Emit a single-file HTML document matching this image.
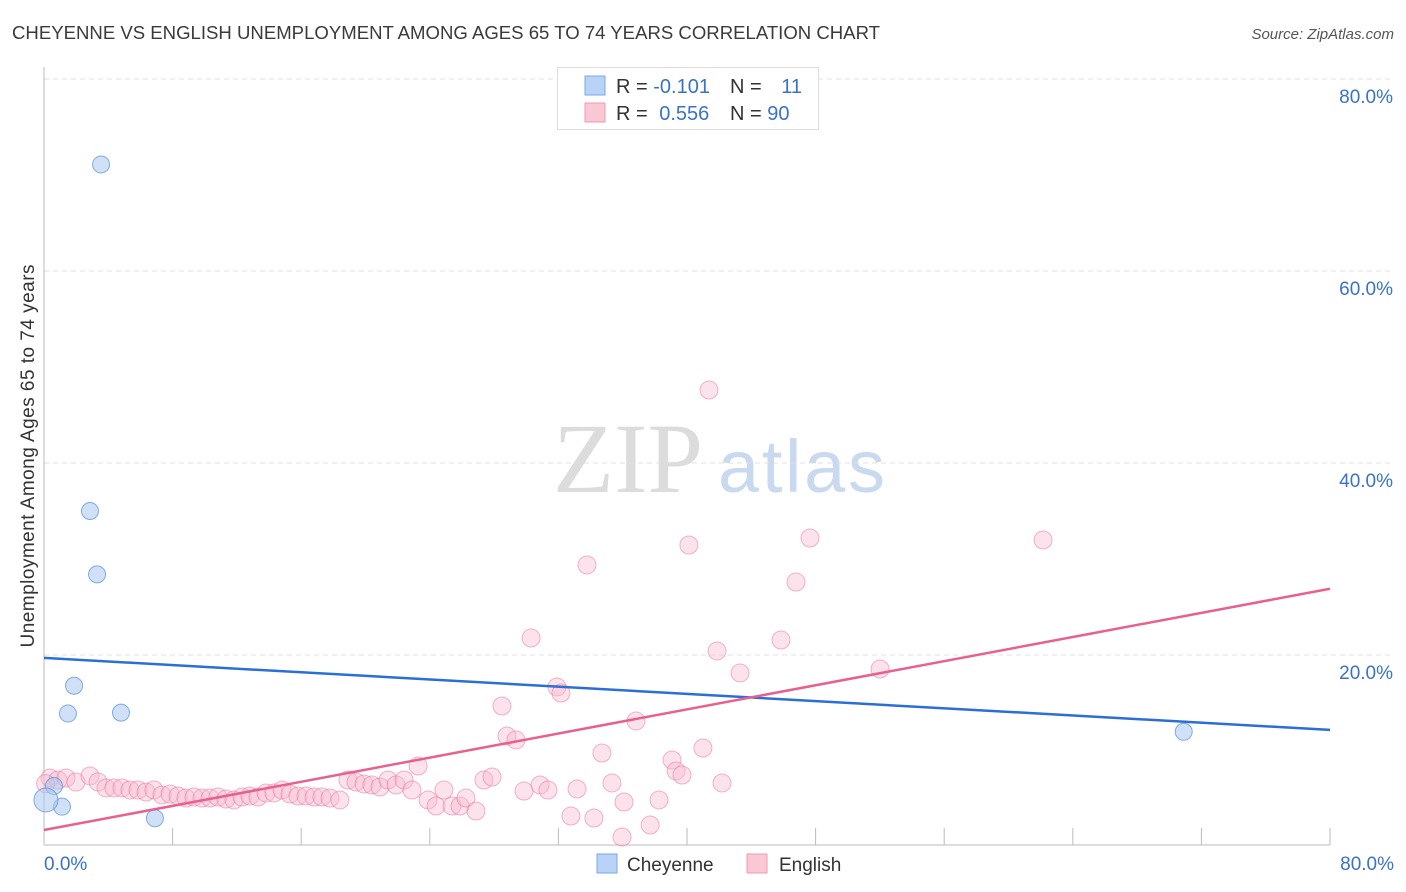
<!DOCTYPE html>
<html><head><meta charset="utf-8"><style>
body{margin:0;background:#fff;font-family:"Liberation Sans",sans-serif;}
svg{display:block}
</style></head><body>
<svg id="c" width="1406" height="892" xmlns="http://www.w3.org/2000/svg">
<text x="12" y="39" font-size="18" fill="#3a3a3a" textLength="868" lengthAdjust="spacingAndGlyphs">CHEYENNE VS ENGLISH UNEMPLOYMENT AMONG AGES 65 TO 74 YEARS CORRELATION CHART</text>
<text x="1394" y="39" font-size="15" fill="#555" font-style="italic" text-anchor="end">Source: ZipAtlas.com</text>
<text x="0" y="0" transform="translate(34,456) rotate(-90)" font-size="19" fill="#333" text-anchor="middle" textLength="383">Unemployment Among Ages 65 to 74 years</text>
<g>
<text x="553" y="492" font-size="100" font-family="Liberation Serif,serif" fill="#dcdcdc">ZIP</text>
<text x="718" y="492" font-size="74" fill="#c9d9ef" textLength="167">atlas</text>
</g>
<g id="grid"></g>
<g id="axes"></g>
<g id="pts"></g>
<g id="lines"></g>
<g>
<rect x="557.5" y="67.5" width="261" height="62" fill="#fff" stroke="#ddd"/>
<rect x="585" y="76" width="20" height="19" fill="#b8d3f5" stroke="#7aa8e6"/>
<rect x="585" y="103" width="20" height="19" fill="#fac7d5" stroke="#ee9ab3"/>
<text x="616" y="93" font-size="20" fill="#333">R = <tspan fill="#3a72c8">-0.101</tspan></text>
<text x="730" y="93" font-size="20" fill="#333">N = <tspan fill="#3a72c8" dx="14">11</tspan></text>
<text x="616" y="120" font-size="20" fill="#333">R = <tspan fill="#3a72c8" dx="6">0.556</tspan></text>
<text x="730" y="120" font-size="20" fill="#333">N = <tspan fill="#3a72c8">90</tspan></text>
</g>
<g>
<rect x="597" y="854" width="20" height="19" fill="#b8d3f5" stroke="#7aa8e6"/>
<text x="627" y="871" font-size="19" fill="#333">Cheyenne</text>
<rect x="747" y="854" width="20" height="19" fill="#fac7d5" stroke="#ee9ab3"/>
<text x="779" y="871" font-size="19" fill="#333">English</text>
</g>
</svg>
<script>
const yTicks=[20,40,60,80];
const yTickLabels=["20.0%","40.0%","60.0%","80.0%"];
const xTickLabels=["0.0%","80.0%"];
const cheyX=[3.55,2.86,3.3,1.87,1.49,4.79,0.62,1.12,6.9,70.9,0.12];
const cheyY=[71.1,35.0,28.4,16.8,13.9,14.0,6.35,4.2,3.0,12.0,4.9];
const engX=[0.37,0.87,1.37,1.99,2.86,3.36,3.86,4.35,4.85,5.35,5.85,6.35,6.84,7.34,7.84,8.34,8.83,9.33,9.83,10.33,10.82,11.32,11.82,12.32,12.81,13.31,13.81,14.31,14.81,15.30,15.80,16.30,16.80,17.29,17.79,18.41,18.91,19.41,19.91,20.40,20.90,21.40,21.90,22.40,22.89,23.27,23.89,24.39,24.88,25.38,25.88,26.25,26.87,27.37,27.87,28.49,28.80,29.36,29.86,30.30,30.86,31.35,31.91,32.16,32.78,33.16,33.78,34.21,34.71,35.33,35.96,36.08,36.83,37.71,38.26,39.07,39.32,39.69,40.12,40.99,41.37,41.87,42.18,43.30,45.85,46.78,47.65,52.01,62.15,0.1];
const engY=[7.19,6.98,7.19,6.77,7.40,6.77,6.15,6.15,6.15,5.94,5.94,5.73,5.94,5.42,5.52,5.31,5.10,5.21,5.10,5.10,5.21,5.00,4.90,5.21,5.31,5.21,5.63,5.63,5.94,5.52,5.31,5.31,5.21,5.21,5.10,4.90,6.98,6.77,6.56,6.46,6.25,6.98,6.46,6.98,5.94,8.44,4.90,4.27,5.94,4.27,4.27,5.10,3.75,6.98,7.29,14.69,11.56,11.15,5.83,21.77,6.46,5.94,16.67,16.04,3.23,6.04,29.38,3.02,9.79,6.67,1.04,4.69,13.13,2.29,4.90,9.06,7.92,7.50,31.46,10.31,47.6,20.42,6.67,18.13,21.56,27.6,32.19,18.54,31.98,6.6];
const cheyLine=[19.7,12.2];
const engLine=[1.77,26.9];
const X=v=>44+v*16.075, Y=v=>847-v*9.6;
const NS="http://www.w3.org/2000/svg";
function mk(p,tag,a){const e=document.createElementNS(NS,tag);for(const k in a)e.setAttribute(k,a[k]);p.appendChild(e);return e;}
const grid=document.getElementById('grid'),axes=document.getElementById('axes'),pts=document.getElementById('pts'),lines=document.getElementById('lines');
yTicks.forEach((t,i)=>{
 const g=mk(grid,'line',{x1:44,x2:1394,y1:Y(t),y2:Y(t),stroke:'#e0e0e0','stroke-dasharray':'5,4'});
 
 
 const l=mk(grid,'text',{x:1393,y:Y(t)+24,'font-size':19,fill:'#3a72c8','text-anchor':'end'});
 l.textContent=yTickLabels[i];
 
 
});
const ya=mk(axes,'line',{x1:44,x2:44,y1:67,y2:845,stroke:'#bbb'});


const xa=mk(axes,'line',{x1:44,x2:1330,y1:845,y2:845,stroke:'#bbb'});


for(let i=1;i<=10;i++){
 const t=mk(axes,'line',{x1:X(i*8),x2:X(i*8),y1:828,y2:845,stroke:'#bbb'});
 
 
}
[[0,'start',44],[80,'end',1394]].forEach((d,i)=>{
 const l=mk(axes,'text',{x:d[2],y:870,'font-size':19,fill:'#3a72c8','text-anchor':d[1]});
 l.textContent=xTickLabels[i];
 
 
});
engX.forEach((v,i)=>{
 const c=mk(pts,'circle',{cx:X(v),cy:Y(engY[i]),r:9,fill:'rgba(248,185,205,0.4)',stroke:'rgba(232,120,155,0.55)','stroke-width':1});
 
 
});
cheyX.forEach((v,i)=>{
 const c=mk(pts,'circle',{cx:X(v),cy:Y(cheyY[i]),r:i==10?12:8.5,fill:'rgba(170,200,240,0.55)',stroke:'rgba(80,140,220,0.7)','stroke-width':1});
 
 
});
const bl=mk(lines,'line',{x1:X(0),y1:Y(cheyLine[0]),x2:X(80),y2:Y(cheyLine[1]),stroke:'#2a6fd6','stroke-width':2.5});


const pl=mk(lines,'line',{x1:X(0),y1:Y(engLine[0]),x2:X(80),y2:Y(engLine[1]),stroke:'#e8608e','stroke-width':2.5});


</script>
</body></html>
